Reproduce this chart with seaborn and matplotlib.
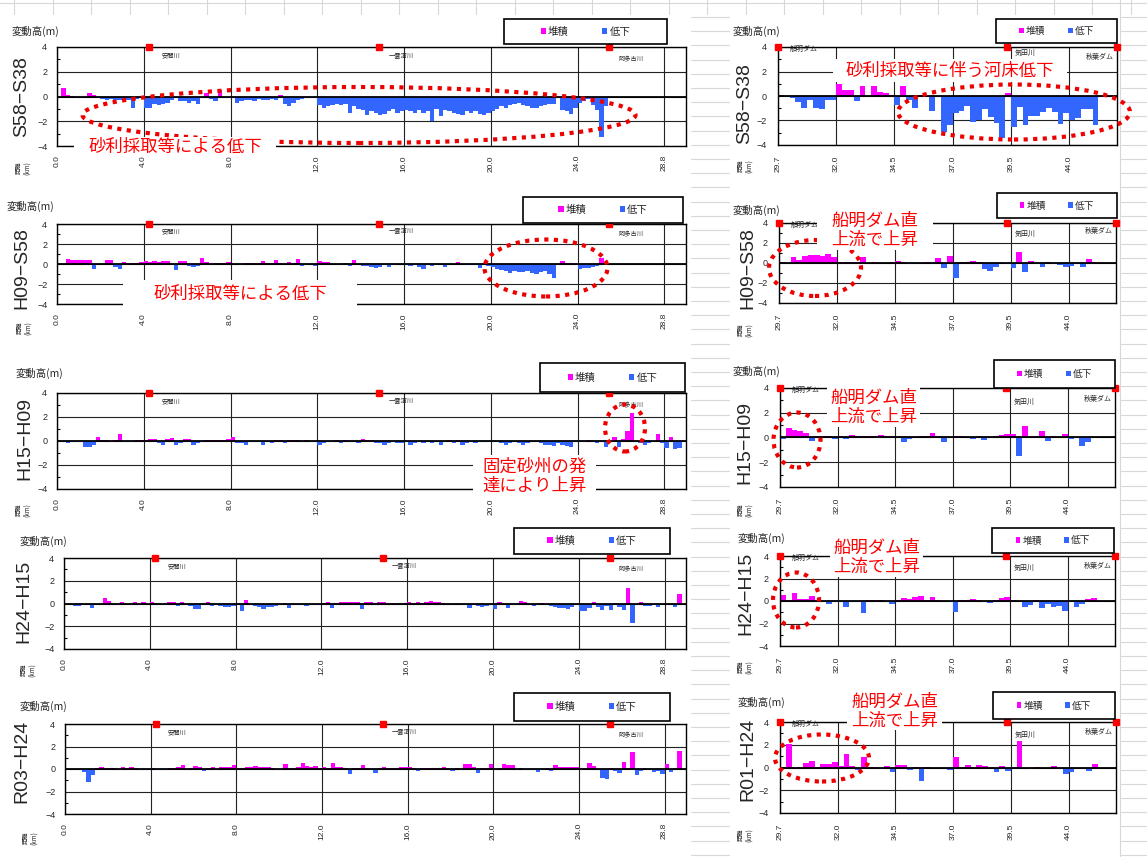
import numpy as np
import pandas as pd
import seaborn as sns
import matplotlib.pyplot as plt
from matplotlib.patches import Rectangle, Ellipse, Patch
from matplotlib.lines import Line2D

# ---------------- data ----------------
left_periods = ['S58−S38', 'H09−S58', 'H15−H09', 'H24−H15', 'R03−H24']
right_periods = ['S58−S38', 'H09−S58', 'H15−H09', 'H24−H15', 'R01−H24']

left_ticks = [0, 4, 8, 12, 16, 20, 24, 28]
left_ticklabels = ['0.0', '4.0', '8.0', '12.0', '16.0', '20.0', '24.0', '28.8']
right_ticks = [0, 10, 20, 30, 40, 50]
right_ticklabels = ['29.7', '32.0', '34.5', '37.0', '39.5', '44.0']

left_rivers = ['安間川', '一雲済川', '阿多古川']
left_river_km = [4.25, 14.85, 25.45]
right_sites = ['船明ダム', '気田川', '秋葉ダム']
right_site_pos = [0.0, 39.3, 58.2]

# lower reach, one value per 0.2 km station from 0.0 km (m)
left_s58_s38 = [
    0.0, 0.7, 0.15, 0.05, 0.0,   0.0, 0.0, 0.3, 0.15, -0.1,
    -0.2, -0.3, -0.2, -0.3, -0.3,   -0.4, -0.3, -0.9, -0.2, -0.1,
    -0.9, -0.9, -0.6, -0.7, -0.6,   -0.5, -0.3, -0.1, -0.4, -0.4,
    -0.5, -0.4, -0.6, -0.1, 0.3,   -0.2, -0.4, 0.5, -0.1, -0.1,
    -0.1, -0.5, -0.4, -0.3, -0.3,   -0.4, -0.2, -0.3, -0.3, -0.2,
    -0.3, 0.1, -0.6, -0.8, -0.5,   -0.3, -0.2, -0.1, -0.1, -0.1,
    -0.7, -0.9, -0.8, -0.7, -0.6,   -0.7, -0.6, -1.3, -0.8, -1.0,
    -1.1, -1.5, -1.2, -1.3, -1.5,   -1.4, -1.2, -1.0, -1.3, -1.2,
    -1.1, -1.2, -1.3, -1.1, -1.3,   -1.2, -2.0, -1.0, -1.6, -1.1,
    -1.2, -1.3, -1.4, -1.5, -1.2,   -1.3, -1.2, -1.4, -1.5, -1.3,
    -1.2, -1.0, -0.8, -0.9, -0.7,   -0.6, -0.5, -0.7, -0.8, -0.9,
    -0.9, -0.8, -0.7, -0.6, -0.6,   -0.1, -1.1, -1.2, -1.4, -0.9,
    -0.5, -0.4, -0.2, -0.7, -1.1,   -3.3, -0.8]
left_h09_s58 = [
    0.0, 0.0, 0.5, 0.4, 0.45,   0.45, 0.4, 0.45, -0.5, 0.0,
    0.0, 0.4, 0.4, -0.3, -0.5,   0.2, 0.15, 0.15, 0.15, 0.2,
    0.3, 0.2, 0.35, 0.25, 0.35,   0.35, 0.05, -0.6, 0.3, 0.3,
    -0.2, -0.3, -0.2, 0.6, 0.2,   -0.1, 0.1, 0.1, 0.1, 0.2,
    0.05, 0.05, -0.05, 0.1, 0.1,   0.15, 0.15, 0.3, 0.15, 0.1,
    0.4, 0.1, 0.05, 0.2, 0.1,   0.5, -0.2, -0.1, 0.05, -0.2,
    0.3, 0.2, 0.2, 0.05, 0.0,   -0.1, 0.1, -0.2, 0.4, 0.05,
    -0.2, -0.2, -0.3, -0.4, -0.3,   -0.1, -0.3, -0.1, 0.05, 0.05,
    -0.1, -0.2, -0.1, -0.3, -0.5,   -0.1, -0.2, -0.1, 0.05, -0.3,
    0.05, 0.05, 0.2, 0.05, -0.05,   -0.05, -0.1, -0.4, 0.05, -0.2,
    -0.3, -0.5, -0.6, -0.7, -0.9,   -0.7, -0.8, -0.8, -0.7, -0.9,
    -1.0, -0.8, -0.7, -1.0, -1.4,   0.05, 0.3, 0.15, 0.15, 0.0,
    -0.5, -0.4, -0.4, -0.3, -0.2,   0.6]
left_h15_h09 = [
    0.0, -0.1, -0.2, -0.1, -0.1,   -0.1, -0.5, -0.5, -0.3, 0.3,
    0.1, 0.05, -0.05, 0.05, 0.55,   -0.05, -0.1, -0.1, 0.1, 0.05,
    0.1, 0.2, 0.2, -0.2, -0.3,   0.2, 0.25, -0.3, -0.2, 0.2,
    0.15, -0.3, -0.2, -0.1, 0.1,   0.05, 0.05, 0.1, 0.05, 0.2,
    0.3, -0.2, -0.2, -0.3, -0.1,   -0.05, -0.1, -0.3, -0.1, -0.2,
    0.1, 0.1, -0.2, 0.05, 0.1,   0.1, -0.05, 0.05, -0.1, -0.05,
    -0.3, -0.2, -0.1, -0.1, 0.1,   -0.2, 0.1, -0.1, -0.1, -0.15,
    0.2, 0.1, 0.05, -0.2, -0.2,   -0.3, -0.2, -0.1, -0.2, -0.2,
    -0.1, -0.3, -0.2, -0.1, -0.2,   -0.1, -0.2, -0.1, -0.3, -0.1,
    0.05, -0.2, 0.05, -0.3, -0.2,   -0.1, -0.2, -0.1, -0.05, -0.1,
    -0.1, -0.1, -0.2, -0.3, -0.2,   -0.1, -0.2, -0.3, -0.2, -0.1,
    -0.1, -0.2, -0.3, -0.3, -0.4,   -0.2, -0.3, -0.4, -0.5, -0.1,
    -0.05, -0.1, 0.1, -0.1, -0.2,   -0.1, -0.5, -0.1, 0.3, -0.5,
    0.2, 0.8, 2.3, -0.1, -0.2,   -0.3, -0.2, -0.1, 0.55, -0.2,
    -0.6, 0.3, -0.7, -0.6]
left_h24_h15 = [
    0.0, 0.0, -0.2, -0.2, -0.1,   -0.05, -0.4, -0.05, -0.05, 0.45,
    0.2, -0.05, -0.15, 0.15, -0.05,   -0.1, 0.1, -0.1, 0.1, -0.05,
    0.1, 0.05, -0.1, -0.1, 0.15,   0.1, -0.2, 0.15, -0.1, -0.2,
    -0.5, -0.5, -0.1, 0.15, -0.2,   -0.05, -0.2, -0.3, -0.3, -0.2,
    0.05, -0.7, 0.35, -0.1, -0.2,   -0.3, -0.45, -0.3, -0.3, -0.2,
    -0.1, 0.05, -0.4, -0.05, -0.1,   -0.1, -0.2, -0.05, -0.1, -0.1,
    0.05, 0.15, -0.4, 0.05, 0.1,   0.1, 0.15, 0.15, 0.1, -0.5,
    0.15, 0.1, 0.05, 0.15, 0.1,   -0.05, 0.05, 0.05, -0.05, 0.05,
    0.1, 0.05, 0.15, 0.05, 0.15,   0.2, 0.15, 0.1, 0.05, -0.05,
    -0.1, -0.05, -0.1, -0.1, -0.4,   -0.1, -0.2, -0.3, -0.2, -0.1,
    -0.5, 0.1, -0.05, -0.4, -0.1,   -0.15, 0.25, 0.15, -0.05, -0.2,
    -0.1, 0.05, -0.05, -0.2, -0.3,   -0.4, -0.4, -0.5, -0.3, -0.1,
    -0.7, -0.7, -0.4, 0.1, -0.3,   -0.6, -0.2, -0.55, 0.05, -0.3,
    -0.6, 1.35, -1.75, -0.1, 0.1,   -0.2, -0.2, -0.05, -0.3, -0.05,
    -0.05, -0.05, -0.3, 0.85]
left_r03_h24 = [
    0.0, 0.0, 0.0, -0.05, -0.3,   -1.15, -0.5, 0.1, 0.15, 0.05,
    0.1, 0.05, -0.05, 0.15, 0.1,   0.15, 0.05, -0.1, -0.1, 0.0,
    0.1, -0.1, -0.1, -0.1, 0.05,   0.1, 0.15, 0.35, -0.1, 0.1,
    0.25, 0.15, -0.2, 0.05, 0.15,   -0.05, 0.15, 0.2, 0.2, 0.35,
    0.05, 0.1, 0.15, 0.2, 0.3,   0.2, 0.2, 0.2, 0.05, -0.1,
    -0.1, 0.45, 0.1, 0.05, 0.2,   0.55, 0.25, 0.2, 0.3, 0.1,
    0.2, 0.05, 0.55, 0.2, 0.2,   0.1, -0.4, 0.1, 0.05, 0.35,
    0.1, -0.1, -0.35, 0.05, 0.15,   0.1, 0.1, 0.1, 0.2, 0.2,
    0.2, 0.05, -0.2, 0.05, 0.05,   0.1, 0.05, 0.1, 0.15, 0.1,
    -0.2, 0.05, -0.1, 0.45, 0.45,   0.2, -0.35, 0.05, 0.05, 0.45,
    -0.1, 0.05, 0.45, 0.4, 0.4,   -0.1, 0.05, -0.1, -0.1, -0.05,
    -0.3, -0.1, 0.05, -0.2, 0.4,   0.2, 0.15, 0.15, 0.15, 0.15,
    -0.05, 0.1, 0.55, 0.25, -0.1,   -0.8, -0.9, 0.05, -0.15, -0.35,
    0.65, 0.1, 1.5, -0.5, -0.2,   0.05, -0.1, -0.3, -0.15, -0.45,
    0.45, -0.25, 0.1, 1.6]

# upper reach (29.7 km upward), one value per survey section (m)
right_s58_s38 = [
    0.05, -0.1, -0.2, -0.5, -1.0, -0.3, -1.0, -1.1, -0.3, -0.3,
    1.0, 0.5, 0.5, -0.4, 0.8, -0.05, 0.85, 0.3, 0.25, 0.05,
    -0.7, 0.85, -0.3, -1.0, 0.05, -0.05, -1.2, -0.1, -2.9, -2.4,
    -1.4, -1.2, -0.8, -2.1, -2.0, -1.1, -1.7, -2.2, -3.4, 0.25,
    -2.5, -0.9, -2.4, -1.6, -1.6, -1.3, -0.95, -1.3, -2.3, -1.4,
    -2.0, -1.8, -1.1, -1.1, -2.4]
right_h09_s58 = [
    0.15, 0.05, 0.65, 0.35, 0.7, 0.8, 0.8, 0.7, 0.9, 0.65,
    0.15, 0.1, 0.1, 0.15, 0.65, 0.05, 0.1, 0.05, 0.05, 0.1,
    0.2, 0.15, -0.05, -0.1, 0.05, 0.1, -0.05, 0.55, -0.5, 0.75,
    -1.5, 0.1, 0.15, 0.2, 0.1, -0.6, -0.75, -0.4, 0.05, -0.05,
    -0.45, 1.1, -0.9, 0.25, -0.1, -0.4, 0.15, -0.05, -0.2, -0.35,
    -0.3, -0.05, -0.35, 0.4, 0.1]
right_h15_h09 = [
    -0.1, 0.8, 0.6, 0.5, 0.4, -0.3, 0.15, 0.1, 0.1, -0.1,
    0.1, -0.1, 0.2, 0.1, 0.1, 0.1, 0.15, 0.2, 0.15, 0.15,
    0.05, -0.4, -0.1, 0.05, 0.15, 0.1, 0.35, 0.1, -0.35, 0.05,
    0.1, 0.1, 0.05, -0.15, 0.1, -0.2, 0.05, 0.15, 0.2, 0.3,
    0.25, -1.5, 0.9, 0.1, 0.1, 0.5, -0.25, 0.1, 0.05, 0.25,
    -0.1, -0.05, -0.7, -0.4]
right_h24_h15 = [
    0.55, 0.05, 0.75, 0.2, 0.15, 0.45, -0.1, -0.05, -0.25, -0.1,
    -0.1, -0.5, -0.05, -0.05, -1.1, 0.1, 0.05, 0.05, -0.1, -0.3,
    0.05, 0.25, 0.2, 0.35, 0.45, 0.1, 0.35, 0.05, 0.0, -0.05,
    -1.0, 0.05, 0.1, 0.15, 0.1, -0.1, -0.15, 0.1, 0.25, 0.4,
    0.05, 0.0, -0.5, -0.35, 0.05, -0.6, -0.3, -0.55, -0.4, -0.9,
    -0.1, -0.5, -0.25, 0.15, 0.25]
right_r01_h24 = [
    0.05, 2.05, 0.05, 0.05, 0.4, 0.55, 0.05, 0.3, 0.35, 0.5,
    0.15, 1.2, 0.1, -0.2, 0.9, 0.05, 0.05, -0.15, 0.1, -0.4,
    0.25, 0.2, -0.2, 0.05, -1.15, 0.05, 0.0, -0.05, 0.0, -0.25,
    0.9, 0.05, 0.2, 0.05, 0.25, 0.1, 0.05, -0.4, 0.15, -0.35,
    0.05, 2.3, 0.0, -0.1, 0.05, -0.05, 0.0, 0.15, -0.1, -0.55,
    -0.4, 0.0, 0.0, -0.3, 0.3]

left_data = [left_s58_s38, left_h09_s58, left_h15_h09, left_h24_h15, left_r03_h24]
right_data = [right_s58_s38, right_h09_s58, right_h15_h09, right_h24_h15, right_r01_h24]

# ---------------- style / layout ----------------
PINK = '#FF00FF'
BLUE = '#3366FF'
RED = '#FF0000'
palette = {'堆積': PINK, '低下': BLUE}

sns.set_theme(style='white')
plt.rcParams['font.family'] = ['Liberation Sans', 'Noto Sans CJK JP', 'DejaVu Sans']
JP = ['Noto Sans CJK JP', 'DejaVu Sans']

W, H = 1147, 857
fig = plt.figure(figsize=(W / 100, H / 100), dpi=100)


def fx(x):
    return x / W


def fy(y):
    return 1 - y / H


def frect(x0, y0, x1, y1):
    return [x0 / W, 1 - y1 / H, (x1 - x0) / W, (y1 - y0) / H]


# spreadsheet cells behind the charts
for y in np.arange(17, H, 14.2):
    for x0, x1 in [(691, 729), (1121, W)]:
        fig.add_artist(Line2D([fx(x0), fx(x1)], [fy(y), fy(y)], transform=fig.transFigure,
                              color='#d8d8d8', lw=0.8, zorder=-2))
for x in np.arange(14, W, 38.5):
    fig.add_artist(Line2D([fx(x), fx(x)], [fy(0), fy(14)], transform=fig.transFigure,
                          color='#d8d8d8', lw=0.8, zorder=-2))
fig.add_artist(Line2D([0, 1], [fy(3), fy(3)], transform=fig.transFigure, color='#d8d8d8', lw=0.8, zorder=-2))
fig.add_artist(Line2D([fx(1120), fx(1120)], [0, 1], transform=fig.transFigure, color='#d8d8d8', lw=0.8, zorder=-2))

# axes boxes in pixels (x0, top, x1, bottom)
left_boxes = [(57, 47, 686, 146), (57, 224, 686, 304), (57, 393, 686, 489),
              (64, 558, 686, 649), (65, 724, 686, 814)]
right_boxes = [(778, 47, 1117, 145), (779, 223, 1116, 303), (780, 388, 1115, 487),
               (780, 556, 1115, 646), (780, 722, 1116, 813)]
left_legends = [(504, 19, 667, 44), (523, 197, 683, 223), (540, 363, 685, 392),
                (514, 528, 670, 554), (514, 693, 670, 721)]
right_legends = [(996, 19, 1117, 43), (997, 193, 1117, 218), (994, 360, 1115, 388),
                 (992, 528, 1114, 553), (993, 692, 1115, 719)]
left_unit = [(12, 31), (7, 206), (16, 373), (20, 541), (20, 706)]
right_unit = [(733, 31), (733, 210), (733, 371), (738, 538), (738, 702)]
left_name = [(22, 97), (22, 268), (25, 439), (24, 601), (22, 761)]
right_name = [(745, 104), (748, 268), (745, 442), (746, 593), (748, 759)]
left_km = [(23, 168), (24, 328), (23, 510), (28, 670), (30, 838)]
right_km = [(745, 166), (745, 330), (745, 510), (745, 667), (745, 835)]
keta_label_y = [3.55, 2.9, 2.9, 2.9, 2.9]


def style_axes(ax, ticks, labels, xmax, xpad, ypad):
    ax.set_xlim(0, xmax)
    ax.set_ylim(-4, 4)
    ax.set_xlabel('')
    ax.set_ylabel('')
    ax.set_xticks(ticks)
    ax.set_xticklabels(labels, rotation=90, fontsize=6)
    ax.set_yticks([-4, -2, 0, 2, 4])
    ax.set_yticks([-3, -1, 1, 3], minor=True)
    ax.tick_params(axis='x', length=0, pad=xpad)
    ax.tick_params(axis='y', which='major', length=0, pad=ypad, labelsize=6.5)
    ax.tick_params(axis='y', which='minor', left=True, direction='in', length=2.5, width=0.8, color='black')
    ax.grid(True, which='major', color='#222222', lw=0.8)
    ax.set_axisbelow(True)
    ax.axhline(0, color='black', lw=1.3, zorder=3)
    for sp in ax.spines.values():
        sp.set_color('black')
        sp.set_linewidth(1.0)


def draw_bars(ax, centers, vals):
    df = pd.DataFrame({'pos': centers, 'val': vals})
    df['kind'] = np.where(df['val'] >= 0, '堆積', '低下')
    sns.barplot(data=df, x='pos', y='val', hue='kind', hue_order=['堆積', '低下'],
                palette=palette, native_scale=True, width=1.0, dodge=False,
                errorbar=None, saturation=1, linewidth=0, antialiased=False,
                legend=False, ax=ax)


def draw_legend(box, fs, cs):
    x0, y0, x1, y1 = box
    fig.add_artist(Rectangle((fx(x0), fy(y1)), (x1 - x0) / W, (y1 - y0) / H,
                             transform=fig.transFigure, fc='white', ec='black', lw=1.2, zorder=2))
    handles = [Patch(fc=PINK, ec='none'), Patch(fc=BLUE, ec='none')]
    leg = fig.legend(handles, ['堆積', '低下'], ncol=2, loc='center',
                     bbox_to_anchor=(fx((x0 + x1) / 2), fy((y0 + y1) / 2)),
                     frameon=False, prop={'family': JP, 'size': fs},
                     handlelength=0.5, handleheight=0.5, handletextpad=0.2,
                     columnspacing=cs, borderaxespad=0)
    leg.set_zorder(3)


for i in range(5):
    # ----- lower reach -----
    x0, t, x1, b = left_boxes[i]
    ax = fig.add_axes(frect(x0, t, x1, b))
    vals = left_data[i]
    km = np.round(np.arange(len(vals)) * 0.2, 1)
    draw_bars(ax, km + 0.1, vals)
    style_axes(ax, left_ticks, left_ticklabels, 29.0, 6.5, 7)
    ax.plot(left_river_km, [4] * len(left_river_km), 's', color=RED, ms=5,
            clip_on=False, zorder=6)
    for name, k, yy in zip(left_rivers, left_river_km, [3.3, 3.3, 3.0]):
        ax.text(k + 1.0, yy, name, fontsize=4.5, ha='center', va='center', family=JP)

    fig.text(fx(left_unit[i][0]), fy(left_unit[i][1]), '変動高(m)', fontsize=7.5,
             ha='left', va='center', family=JP)
    fig.text(fx(left_name[i][0]), fy(left_name[i][1]), left_periods[i], fontsize=14,
             rotation=90, ha='center', va='center')
    fig.text(fx(left_km[i][0]), fy(left_km[i][1]), '距離\n(km)', fontsize=4.5,
             rotation=90, ha='center', va='center', linespacing=1.0, family=JP)
    draw_legend(left_legends[i], 7.5, 3.2)

    # ----- upper reach -----
    x0, t, x1, b = right_boxes[i]
    ax = fig.add_axes(frect(x0, t, x1, b))
    vals = right_data[i]
    idx = np.arange(len(vals))
    draw_bars(ax, idx + 0.5, vals)
    style_axes(ax, right_ticks, right_ticklabels, 58.2, 8, 8)
    ax.plot(right_site_pos, [4] * len(right_site_pos), 's', color=RED, ms=5,
            clip_on=False, zorder=6)
    ax.text(2.0, 3.85, right_sites[0], fontsize=5, ha='left', va='center', family=JP)
    ax.text(42.5, keta_label_y[i], right_sites[1], fontsize=5, ha='center', va='center', family=JP)
    ax.text(55.2, 3.15, right_sites[2], fontsize=5, ha='center', va='center', family=JP)

    fig.text(fx(right_unit[i][0]), fy(right_unit[i][1]), '変動高(m)', fontsize=7.5,
             ha='left', va='center', family=JP)
    fig.text(fx(right_name[i][0]), fy(right_name[i][1]), right_periods[i], fontsize=14,
             rotation=90, ha='center', va='center')
    fig.text(fx(right_km[i][0]), fy(right_km[i][1]), '距離\n(km)', fontsize=4.5,
             rotation=90, ha='center', va='center', linespacing=1.0, family=JP)
    draw_legend(right_legends[i], 7, 2.3)

# ---------------- annotations ----------------
notes = [
    ('砂利採取等による低下', (74, 137, 276, 157)),
    ('砂利採取等に伴う河床低下', (833, 59, 1067, 82)),
    ('砂利採取等による低下', (123, 280, 357, 307)),
    ('船明ダム直\n上流で上昇', (817, 210, 933, 250)),
    ('固定砂州の発\n達により上昇', (473, 455, 596, 497)),
    ('船明ダム直\n上流で上昇', (827, 387, 920, 427)),
    ('船明ダム直\n上流で上昇', (830, 538, 923, 577)),
    ('船明ダム直\n上流で上昇', (847, 692, 942, 730)),
]
for txt, (x0, y0, x1, y1) in notes:
    fig.add_artist(Rectangle((fx(x0), fy(y1)), (x1 - x0) / W, (y1 - y0) / H,
                             transform=fig.transFigure, fc='white', ec='none', zorder=7))
    fig.text(fx((x0 + x1) / 2), fy((y0 + y1) / 2), txt, color=RED, fontsize=12.5,
             ha='center', va='center', linespacing=1.05, family=JP, zorder=8)

# dotted rings (center x, center y, width, height) in pixels
rings = [(359, 115, 553, 56), (1014, 112, 232, 55), (546, 268, 123, 57),
         (815, 268, 92, 56), (625, 428, 40, 47), (797, 440, 47, 55),
         (796, 600, 46, 55), (822, 758, 94, 47)]
for cx, cy, w, h in rings:
    fig.add_artist(Ellipse((fx(cx), fy(cy)), w / W, h / H, transform=fig.transFigure,
                           fill=False, ec='#EE0000', lw=3.0, ls=(0, (1, 1.3)), zorder=6))

fig.savefig('out.png', dpi=100, facecolor='white')
